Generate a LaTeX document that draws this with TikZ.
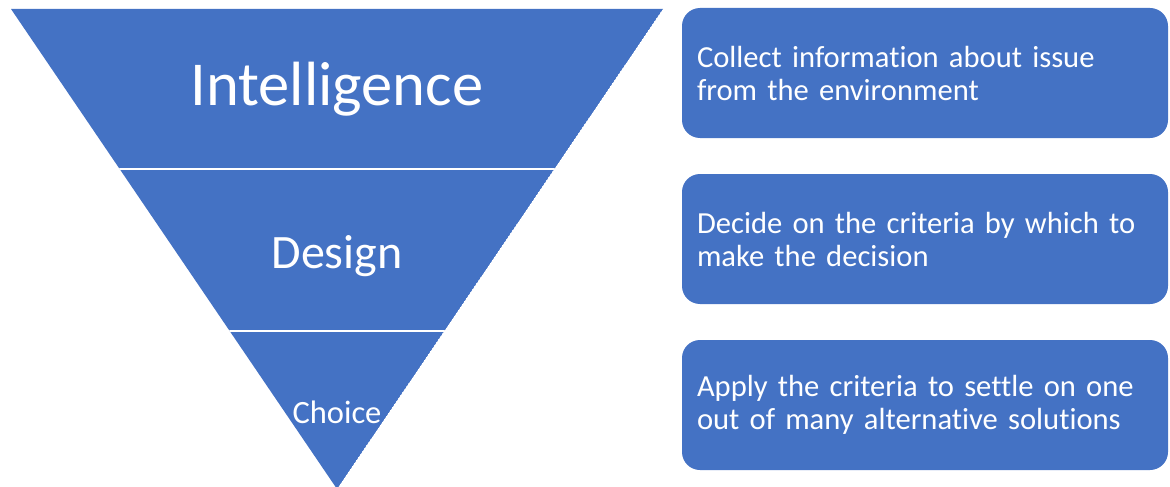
\documentclass[tikz,border=0pt]{standalone}
\usepackage{fontspec}
\setmainfont{Carlito}[Ligatures={NoCommon}]
\definecolor{funnelblue}{HTML}{4472C4}
\begin{document}
\begin{tikzpicture}[x=1pt,y=-1pt,
  stage/.style={text=white,anchor=base,inner sep=0pt},
  infobox/.style={fill=funnelblue,rounded corners=18pt,text=white,
    minimum width=486pt,minimum height=130pt,text width=456pt,
    inner xsep=15pt,inner ysep=0pt,align=left,
    font=\fontsize{30.6}{33}\selectfont},
  divider/.style={draw=white,line width=2.6pt}]
\useasboundingbox (0,0) rectangle (1170,487);

% funnel corners
\coordinate (tl) at (11,9);
\coordinate (tr) at (663,9);
\coordinate (apex) at (337,489);

\begin{scope}
  \clip (tl) -- (tr) -- (apex) -- cycle;
  \fill[funnelblue] (tl) -- (tr) -- (apex) -- cycle;
  \coordinate (d1l) at (0,169);
  \coordinate (d1r) at (700,169);
  \coordinate (d2l) at (0,331);
  \coordinate (d2r) at (700,331);
  \draw[divider] (d1l) -- (d1r);
  \draw[divider] (d2l) -- (d2r);
\end{scope}

% stage labels
\node[stage,font=\fontsize{62.5}{70}\selectfont] (intel) at (337,105) {Intelligence};
\node[stage,font=\fontsize{48}{54}\selectfont] (design) at (337,268) {Design};
\node[stage,font=\fontsize{32.5}{36}\selectfont] (choice) at (337,423) {Choice};

% descriptions
\node[infobox] (b1) at (925,73) {Collect information about issue\\from the environment};
\node[infobox] (b2) at (925,239) {Decide on the criteria by which to\\make the decision};
\node[infobox] (b3) at (925,405) {Apply the criteria to settle on one\\out of many alternative solutions};
\end{tikzpicture}
\end{document}
